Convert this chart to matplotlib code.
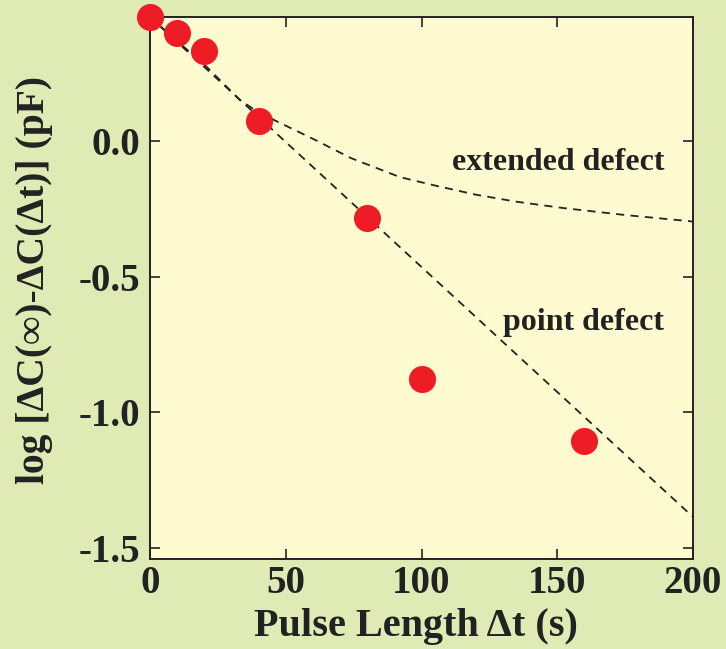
import matplotlib
matplotlib.use("Agg")
import matplotlib.pyplot as plt

# datos medidos (puntos rojos)
pulse_t = [0, 10, 20, 40, 80, 100, 160]
log_dc = [0.457, 0.398, 0.332, 0.074, -0.284, -0.877, -1.106]

# curva "point defect" (recta)
point_t = [0, 200]
point_y = [0.457, -1.386]

# curva "extended defect"
ext_t = [0, 10, 20, 33, 40, 48, 60, 74, 92, 104, 120, 135, 152, 175, 200]
ext_y = [0.457, 0.368, 0.282, 0.152, 0.105, 0.066, 0.008, -0.063, -0.133, -0.162, -0.198,
         -0.224, -0.247, -0.273, -0.297]

x_ticks = [0, 50, 100, 150, 200]
y_ticks = [0.0, -0.5, -1.0, -1.5]

plt.rcParams['font.family'] = ['Liberation Serif', 'DejaVu Serif']
plt.rcParams['font.weight'] = 'bold'

fig = plt.figure(figsize=(7.26, 6.49), dpi=100, facecolor='#e0eab4')
ax = fig.add_axes([150 / 726, 1 - 559 / 649, 543 / 726, 542 / 649])
ax.set_facecolor('#fffbd0')

ax.plot(point_t, point_y, color='#222222', lw=1.3, dashes=(4.5, 3.5))
ax.plot(ext_t, ext_y, color='#222222', lw=1.3, dashes=(4.5, 3.5))
ax.plot(pulse_t, log_dc, 'o', color='#ee1c25', markersize=19.5, markeredgewidth=0,
        clip_on=False, zorder=5)

ax.text(189.5, -0.107, 'extended defect', ha='right', va='baseline', fontsize=23,
        fontweight='bold', color='#222222')
ax.text(189.5, -0.697, 'point defect', ha='right', va='baseline', fontsize=23,
        fontweight='bold', color='#222222')

ax.set_xlim(0, 200)
ax.set_ylim(-1.541, 0.457)
ax.set_xticks(x_ticks)
ax.set_yticks(y_ticks)
ax.set_xticklabels([str(v) for v in x_ticks])
ax.set_yticklabels(['%.1f' % v for v in y_ticks])
ax.tick_params(direction='in', length=7.5, width=1.2, top=True, right=True,
               labelsize=28, colors='#222222')
ax.tick_params(axis='x', pad=4)
ax.tick_params(axis='y', pad=7)
for lab in ax.get_xticklabels() + ax.get_yticklabels():
    lab.set_fontweight('bold')
for s in ax.spines.values():
    s.set_linewidth(1.4)
    s.set_color('#222222')

ax.set_xlabel('Pulse Length Δt (s)', fontsize=29, fontweight='bold', color='#222222')
ax.set_ylabel('log [ΔC(∞)-ΔC(Δt)] (pF)', fontsize=28.5, fontweight='bold', color='#222222')
ax.xaxis.set_label_coords(0.49, -0.0904)
ax.yaxis.set_label_coords(-0.1786, 0.5148)

fig.savefig('out.png', dpi=100, facecolor=fig.get_facecolor())
